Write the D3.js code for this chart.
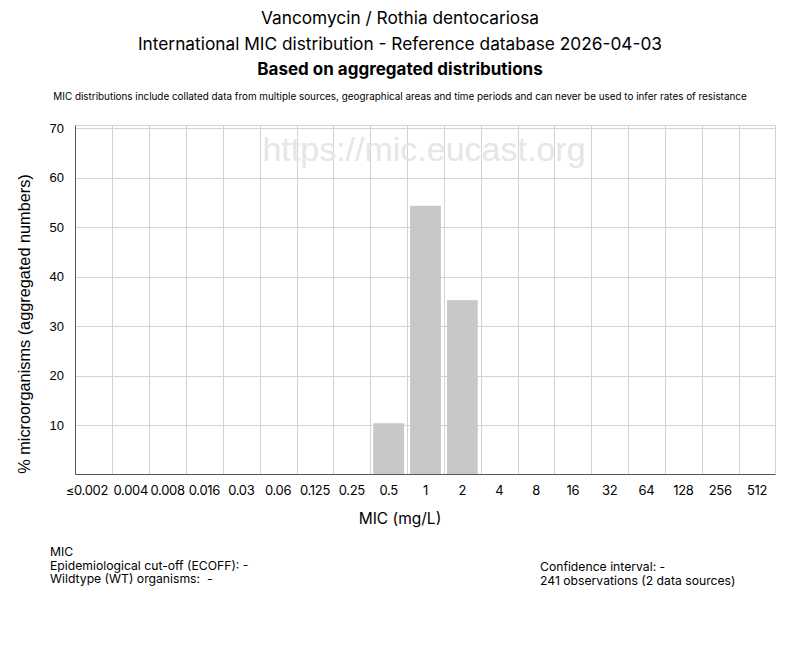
<!DOCTYPE html>
<html>
<head>
<meta charset="utf-8">
<script src="https://cdn.jsdelivr.net/npm/d3@7"></script>
<style>
  body { margin: 0; background: #fff; }
  text { fill: #000; }
</style>
</head>
<body>
<svg id="chart" width="800" height="650"></svg>
<script>
// MIC classes (mg/L) and % of isolates per class
const micLabels = ["≤0.002", "0.004", "0.008", "0.016", "0.03", "0.06", "0.125", "0.25",
    "0.5", "1", "2", "4", "8", "16", "32", "64", "128", "256", "512"];
const percents = [0, 0, 0, 0, 0, 0, 0, 0, 10.37, 54.36, 35.27, 0, 0, 0, 0, 0, 0, 0, 0];
const yTicks = [10, 20, 30, 40, 50, 60, 70];

const titleLines = [
    "Vancomycin / Rothia dentocariosa",
    "International MIC distribution - Reference database 2026-04-03"
];

const svg = d3.select("#chart");
const plotLeft = 75.5, plotRight = 775.5, plotTop = 125.5, plotBottom = 474.5;
const titleFont = "Inter, Roboto, sans-serif";
const tickFont = "'Liberation Sans', Arial, sans-serif";

const x = d3.scaleBand().domain(micLabels).range([plotLeft, plotRight]).paddingInner(0).paddingOuter(0);
const y = d3.scaleLinear().domain([0, 70.6]).range([plotBottom, plotTop]);

// titles
svg.selectAll(".title")
    .data(titleLines)
    .enter().append("text")
    .attr("x", 400)
    .attr("y", (d, i) => 24 + i * 25.5)
    .attr("text-anchor", "middle")
    .attr("font-family", titleFont)
    .attr("font-size", 17.3)
    .text(d => d);

svg.append("text")
    .attr("x", 400).attr("y", 75)
    .attr("text-anchor", "middle")
    .attr("font-family", titleFont)
    .attr("font-size", 17)
    .attr("font-weight", "bold")
    .text("Based on aggregated distributions");

svg.append("text")
    .attr("x", 400).attr("y", 100)
    .attr("text-anchor", "middle")
    .attr("font-family", titleFont)
    .attr("font-size", 9.9)
    .text("MIC distributions include collated data from multiple sources, geographical areas and time periods and can never be used to infer rates of resistance");

// grid
const grid = svg.append("g");
grid.selectAll(".hgrid")
    .data(yTicks)
    .enter().append("line")
    .attr("x1", plotLeft).attr("x2", plotRight)
    .attr("y1", d => Math.round(y(d)) + 0.5).attr("y2", d => Math.round(y(d)) + 0.5)
    .attr("stroke", "#d3d3d3");
grid.selectAll(".vgrid")
    .data(micLabels.slice(1))
    .enter().append("line")
    .attr("x1", d => Math.round(x(d)) + 0.5).attr("x2", d => Math.round(x(d)) + 0.5)
    .attr("y1", plotTop).attr("y2", plotBottom)
    .attr("stroke", "#d3d3d3");
grid.append("line")
    .attr("x1", plotLeft).attr("x2", plotRight).attr("y1", plotTop).attr("y2", plotTop)
    .attr("stroke", "#d3d3d3");
grid.append("line")
    .attr("x1", plotRight).attr("x2", plotRight).attr("y1", plotTop).attr("y2", plotBottom)
    .attr("stroke", "#d3d3d3");

// watermark
svg.append("text")
    .attr("x", 424).attr("y", 161)
    .attr("text-anchor", "middle")
    .attr("font-family", tickFont)
    .attr("font-size", 34)
    .style("fill", "#e6e6e6")
    .text("https://mic.eucast.org");

// bars
const pad = 3;
svg.selectAll(".bar")
    .data(micLabels.map((k, i) => ({ key: k, value: percents[i] })).filter(d => d.value > 0))
    .enter().append("rect")
    .attr("class", "bar")
    .attr("fill", "#c8c8c8")
    .attr("x", d => x(d.key) + pad)
    .attr("width", x.bandwidth() - 2 * pad)
    .attr("y", d => y(d.value))
    .attr("height", d => plotBottom - y(d.value));

// axes
svg.append("line")
    .attr("x1", plotLeft).attr("x2", plotLeft).attr("y1", plotTop).attr("y2", plotBottom)
    .attr("stroke", "#555");
svg.append("line")
    .attr("x1", plotLeft).attr("x2", plotRight).attr("y1", plotBottom).attr("y2", plotBottom)
    .attr("stroke", "#555");

svg.selectAll(".ytick")
    .data(yTicks)
    .enter().append("text")
    .attr("x", 64)
    .attr("y", d => y(d) + 4.5)
    .attr("text-anchor", "end")
    .attr("font-family", tickFont)
    .attr("font-size", 13)
    .text(d => d);

svg.selectAll(".xtick")
    .data(micLabels)
    .enter().append("text")
    .attr("x", (d, i) => x(d) + x.bandwidth() / 2 - (i === 0 ? 7 : 0))
    .attr("y", 495)
    .attr("text-anchor", "middle")
    .attr("font-family", titleFont)
    .attr("font-size", 13)
    .attr("letter-spacing", -0.3)
    .text(d => d);

// axis titles
svg.append("text")
    .attr("x", 400).attr("y", 524)
    .attr("text-anchor", "middle")
    .attr("font-family", titleFont)
    .attr("font-size", 15.5)
    .text("MIC (mg/L)");

svg.append("text")
    .attr("transform", "translate(30,324) rotate(-90)")
    .attr("text-anchor", "middle")
    .attr("font-family", tickFont)
    .attr("font-size", 16.3)
    .text("% microorganisms (aggregated numbers)");

// footer
const footLeft = ["MIC", "Epidemiological cut-off (ECOFF): -", "Wildtype (WT) organisms:  -"];
const footRight = ["Confidence interval: -", "241 observations (2 data sources)"];

svg.selectAll(".footl")
    .data(footLeft)
    .enter().append("text")
    .attr("x", 50)
    .attr("y", (d, i) => 556 + i * 13.5)
    .attr("font-family", titleFont)
    .attr("font-size", 12.2)
    .style("white-space", "pre")
    .text(d => d);

svg.selectAll(".footr")
    .data(footRight)
    .enter().append("text")
    .attr("x", 540)
    .attr("y", (d, i) => 571 + i * 13.5)
    .attr("font-family", titleFont)
    .attr("font-size", 12.2)
    .text(d => d);
</script>
</body>
</html>
